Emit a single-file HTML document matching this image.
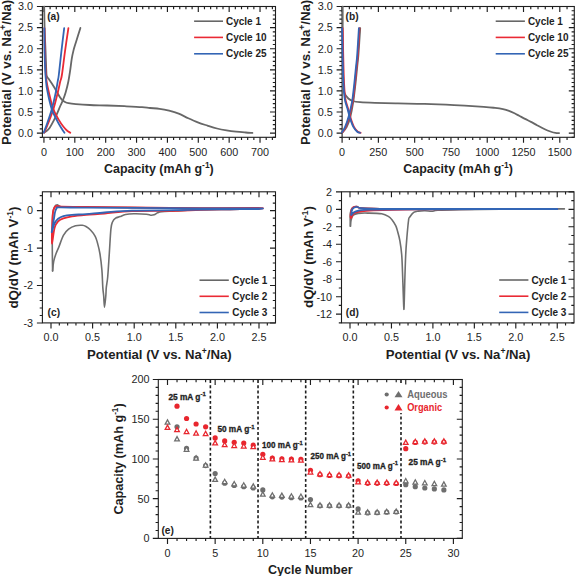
<!DOCTYPE html>
<html><head><meta charset="utf-8"><title>Figure</title>
<style>
html,body{margin:0;padding:0;background:#fff;}
body{width:575px;height:576px;overflow:hidden;}
svg{display:block;font-family:"Liberation Sans", sans-serif;}
</style></head>
<body>
<svg width="575" height="576" viewBox="0 0 575 576">
<rect width="575" height="576" fill="#fff"/>
<rect x="42.4" y="6.5" width="233.1" height="130.8" fill="none" stroke="#1e1e1e" stroke-width="1.1"/>
<path d="M43.94,137.3v5.5 M43.94,6.5v5.5 M74.81,137.3v5.5 M74.81,6.5v5.5 M105.68,137.3v5.5 M105.68,6.5v5.5 M136.55,137.3v5.5 M136.55,6.5v5.5 M167.42,137.3v5.5 M167.42,6.5v5.5 M198.29,137.3v5.5 M198.29,6.5v5.5 M229.16,137.3v5.5 M229.16,6.5v5.5 M260.03,137.3v5.5 M260.03,6.5v5.5 M50.11,137.3v2.7 M50.11,6.5v2.7 M56.29,137.3v2.7 M56.29,6.5v2.7 M62.46,137.3v2.7 M62.46,6.5v2.7 M68.64,137.3v2.7 M68.64,6.5v2.7 M80.98,137.3v2.7 M80.98,6.5v2.7 M87.16,137.3v2.7 M87.16,6.5v2.7 M93.33,137.3v2.7 M93.33,6.5v2.7 M99.51,137.3v2.7 M99.51,6.5v2.7 M111.85,137.3v2.7 M111.85,6.5v2.7 M118.03,137.3v2.7 M118.03,6.5v2.7 M124.2,137.3v2.7 M124.2,6.5v2.7 M130.38,137.3v2.7 M130.38,6.5v2.7 M142.72,137.3v2.7 M142.72,6.5v2.7 M148.9,137.3v2.7 M148.9,6.5v2.7 M155.07,137.3v2.7 M155.07,6.5v2.7 M161.25,137.3v2.7 M161.25,6.5v2.7 M173.59,137.3v2.7 M173.59,6.5v2.7 M179.77,137.3v2.7 M179.77,6.5v2.7 M185.94,137.3v2.7 M185.94,6.5v2.7 M192.12,137.3v2.7 M192.12,6.5v2.7 M204.46,137.3v2.7 M204.46,6.5v2.7 M210.64,137.3v2.7 M210.64,6.5v2.7 M216.81,137.3v2.7 M216.81,6.5v2.7 M222.99,137.3v2.7 M222.99,6.5v2.7 M235.33,137.3v2.7 M235.33,6.5v2.7 M241.51,137.3v2.7 M241.51,6.5v2.7 M247.68,137.3v2.7 M247.68,6.5v2.7 M253.86,137.3v2.7 M253.86,6.5v2.7 M266.2,137.3v2.7 M266.2,6.5v2.7 M272.38,137.3v2.7 M272.38,6.5v2.7 " stroke="#1e1e1e" stroke-width="1.15"/>
<path d="M42.4,133.08h-5.5 M275.5,133.08h-5.5 M42.4,111.99h-5.5 M275.5,111.99h-5.5 M42.4,90.89h-5.5 M275.5,90.89h-5.5 M42.4,69.8h-5.5 M275.5,69.8h-5.5 M42.4,48.7h-5.5 M275.5,48.7h-5.5 M42.4,27.61h-5.5 M275.5,27.61h-5.5 M42.4,6.51h-5.5 M275.5,6.51h-5.5 M42.4,137.3h-2.7 M275.5,137.3h-2.7 M42.4,128.86h-2.7 M275.5,128.86h-2.7 M42.4,124.64h-2.7 M275.5,124.64h-2.7 M42.4,120.42h-2.7 M275.5,120.42h-2.7 M42.4,116.2h-2.7 M275.5,116.2h-2.7 M42.4,107.77h-2.7 M275.5,107.77h-2.7 M42.4,103.55h-2.7 M275.5,103.55h-2.7 M42.4,99.33h-2.7 M275.5,99.33h-2.7 M42.4,95.11h-2.7 M275.5,95.11h-2.7 M42.4,86.67h-2.7 M275.5,86.67h-2.7 M42.4,82.45h-2.7 M275.5,82.45h-2.7 M42.4,78.23h-2.7 M275.5,78.23h-2.7 M42.4,74.01h-2.7 M275.5,74.01h-2.7 M42.4,65.58h-2.7 M275.5,65.58h-2.7 M42.4,61.36h-2.7 M275.5,61.36h-2.7 M42.4,57.14h-2.7 M275.5,57.14h-2.7 M42.4,52.92h-2.7 M275.5,52.92h-2.7 M42.4,44.48h-2.7 M275.5,44.48h-2.7 M42.4,40.26h-2.7 M275.5,40.26h-2.7 M42.4,36.04h-2.7 M275.5,36.04h-2.7 M42.4,31.82h-2.7 M275.5,31.82h-2.7 M42.4,23.39h-2.7 M275.5,23.39h-2.7 M42.4,19.17h-2.7 M275.5,19.17h-2.7 M42.4,14.95h-2.7 M275.5,14.95h-2.7 M42.4,10.73h-2.7 M275.5,10.73h-2.7 " stroke="#1e1e1e" stroke-width="1.15"/>
<text x="43.94" y="156.09" font-size="10.8" font-weight="400" text-anchor="middle" fill="#1e1e1e" >0</text>
<text x="74.81" y="156.09" font-size="10.8" font-weight="400" text-anchor="middle" fill="#1e1e1e" >100</text>
<text x="105.68" y="156.09" font-size="10.8" font-weight="400" text-anchor="middle" fill="#1e1e1e" >200</text>
<text x="136.55" y="156.09" font-size="10.8" font-weight="400" text-anchor="middle" fill="#1e1e1e" >300</text>
<text x="167.42" y="156.09" font-size="10.8" font-weight="400" text-anchor="middle" fill="#1e1e1e" >400</text>
<text x="198.29" y="156.09" font-size="10.8" font-weight="400" text-anchor="middle" fill="#1e1e1e" >500</text>
<text x="229.16" y="156.09" font-size="10.8" font-weight="400" text-anchor="middle" fill="#1e1e1e" >600</text>
<text x="260.03" y="156.09" font-size="10.8" font-weight="400" text-anchor="middle" fill="#1e1e1e" >700</text>
<text x="33" y="136.97" font-size="10.8" font-weight="400" text-anchor="end" fill="#1e1e1e" >0.0</text>
<text x="33" y="115.87" font-size="10.8" font-weight="400" text-anchor="end" fill="#1e1e1e" >0.5</text>
<text x="33" y="94.78" font-size="10.8" font-weight="400" text-anchor="end" fill="#1e1e1e" >1.0</text>
<text x="33" y="73.68" font-size="10.8" font-weight="400" text-anchor="end" fill="#1e1e1e" >1.5</text>
<text x="33" y="52.59" font-size="10.8" font-weight="400" text-anchor="end" fill="#1e1e1e" >2.0</text>
<text x="33" y="31.49" font-size="10.8" font-weight="400" text-anchor="end" fill="#1e1e1e" >2.5</text>
<text x="33" y="10.4" font-size="10.8" font-weight="400" text-anchor="end" fill="#1e1e1e" >3.0</text>
<rect x="342.1" y="6.5" width="232.2" height="130.8" fill="none" stroke="#1e1e1e" stroke-width="1.1"/>
<path d="M342.1,137.3v5.5 M342.1,6.5v5.5 M378.38,137.3v5.5 M378.38,6.5v5.5 M414.67,137.3v5.5 M414.67,6.5v5.5 M450.95,137.3v5.5 M450.95,6.5v5.5 M487.23,137.3v5.5 M487.23,6.5v5.5 M523.51,137.3v5.5 M523.51,6.5v5.5 M559.8,137.3v5.5 M559.8,6.5v5.5 M349.36,137.3v2.7 M349.36,6.5v2.7 M356.61,137.3v2.7 M356.61,6.5v2.7 M363.87,137.3v2.7 M363.87,6.5v2.7 M371.13,137.3v2.7 M371.13,6.5v2.7 M385.64,137.3v2.7 M385.64,6.5v2.7 M392.9,137.3v2.7 M392.9,6.5v2.7 M400.15,137.3v2.7 M400.15,6.5v2.7 M407.41,137.3v2.7 M407.41,6.5v2.7 M421.92,137.3v2.7 M421.92,6.5v2.7 M429.18,137.3v2.7 M429.18,6.5v2.7 M436.43,137.3v2.7 M436.43,6.5v2.7 M443.69,137.3v2.7 M443.69,6.5v2.7 M458.2,137.3v2.7 M458.2,6.5v2.7 M465.46,137.3v2.7 M465.46,6.5v2.7 M472.72,137.3v2.7 M472.72,6.5v2.7 M479.97,137.3v2.7 M479.97,6.5v2.7 M494.49,137.3v2.7 M494.49,6.5v2.7 M501.74,137.3v2.7 M501.74,6.5v2.7 M509,137.3v2.7 M509,6.5v2.7 M516.26,137.3v2.7 M516.26,6.5v2.7 M530.77,137.3v2.7 M530.77,6.5v2.7 M538.03,137.3v2.7 M538.03,6.5v2.7 M545.28,137.3v2.7 M545.28,6.5v2.7 M552.54,137.3v2.7 M552.54,6.5v2.7 M567.05,137.3v2.7 M567.05,6.5v2.7 " stroke="#1e1e1e" stroke-width="1.15"/>
<path d="M342.1,133.08h-5.5 M574.3,133.08h-5.5 M342.1,111.99h-5.5 M574.3,111.99h-5.5 M342.1,90.89h-5.5 M574.3,90.89h-5.5 M342.1,69.8h-5.5 M574.3,69.8h-5.5 M342.1,48.7h-5.5 M574.3,48.7h-5.5 M342.1,27.61h-5.5 M574.3,27.61h-5.5 M342.1,6.51h-5.5 M574.3,6.51h-5.5 M342.1,137.3h-2.7 M574.3,137.3h-2.7 M342.1,128.86h-2.7 M574.3,128.86h-2.7 M342.1,124.64h-2.7 M574.3,124.64h-2.7 M342.1,120.42h-2.7 M574.3,120.42h-2.7 M342.1,116.2h-2.7 M574.3,116.2h-2.7 M342.1,107.77h-2.7 M574.3,107.77h-2.7 M342.1,103.55h-2.7 M574.3,103.55h-2.7 M342.1,99.33h-2.7 M574.3,99.33h-2.7 M342.1,95.11h-2.7 M574.3,95.11h-2.7 M342.1,86.67h-2.7 M574.3,86.67h-2.7 M342.1,82.45h-2.7 M574.3,82.45h-2.7 M342.1,78.23h-2.7 M574.3,78.23h-2.7 M342.1,74.01h-2.7 M574.3,74.01h-2.7 M342.1,65.58h-2.7 M574.3,65.58h-2.7 M342.1,61.36h-2.7 M574.3,61.36h-2.7 M342.1,57.14h-2.7 M574.3,57.14h-2.7 M342.1,52.92h-2.7 M574.3,52.92h-2.7 M342.1,44.48h-2.7 M574.3,44.48h-2.7 M342.1,40.26h-2.7 M574.3,40.26h-2.7 M342.1,36.04h-2.7 M574.3,36.04h-2.7 M342.1,31.82h-2.7 M574.3,31.82h-2.7 M342.1,23.39h-2.7 M574.3,23.39h-2.7 M342.1,19.17h-2.7 M574.3,19.17h-2.7 M342.1,14.95h-2.7 M574.3,14.95h-2.7 M342.1,10.73h-2.7 M574.3,10.73h-2.7 " stroke="#1e1e1e" stroke-width="1.15"/>
<text x="342.1" y="156.09" font-size="10.8" font-weight="400" text-anchor="middle" fill="#1e1e1e" >0</text>
<text x="378.38" y="156.09" font-size="10.8" font-weight="400" text-anchor="middle" fill="#1e1e1e" >250</text>
<text x="414.67" y="156.09" font-size="10.8" font-weight="400" text-anchor="middle" fill="#1e1e1e" >500</text>
<text x="450.95" y="156.09" font-size="10.8" font-weight="400" text-anchor="middle" fill="#1e1e1e" >750</text>
<text x="487.23" y="156.09" font-size="10.8" font-weight="400" text-anchor="middle" fill="#1e1e1e" >1000</text>
<text x="523.51" y="156.09" font-size="10.8" font-weight="400" text-anchor="middle" fill="#1e1e1e" >1250</text>
<text x="559.8" y="156.09" font-size="10.8" font-weight="400" text-anchor="middle" fill="#1e1e1e" >1500</text>
<text x="332.7" y="136.97" font-size="10.8" font-weight="400" text-anchor="end" fill="#1e1e1e" >0.0</text>
<text x="332.7" y="115.87" font-size="10.8" font-weight="400" text-anchor="end" fill="#1e1e1e" >0.5</text>
<text x="332.7" y="94.78" font-size="10.8" font-weight="400" text-anchor="end" fill="#1e1e1e" >1.0</text>
<text x="332.7" y="73.68" font-size="10.8" font-weight="400" text-anchor="end" fill="#1e1e1e" >1.5</text>
<text x="332.7" y="52.59" font-size="10.8" font-weight="400" text-anchor="end" fill="#1e1e1e" >2.0</text>
<text x="332.7" y="31.49" font-size="10.8" font-weight="400" text-anchor="end" fill="#1e1e1e" >2.5</text>
<text x="332.7" y="10.4" font-size="10.8" font-weight="400" text-anchor="end" fill="#1e1e1e" >3.0</text>
<text x="158.9" y="173.1" font-size="12.5" font-weight="700" text-anchor="middle" fill="#1e1e1e" textLength="109.7" lengthAdjust="spacingAndGlyphs" >Capacity (mAh g<tspan dy="-5" font-size="8.5">-1</tspan><tspan dy="5">)</tspan></text>
<text transform="translate(10.9,72.4) rotate(-90)" font-size="13.2" font-weight="700" text-anchor="middle" fill="#1e1e1e" textLength="145.2" lengthAdjust="spacingAndGlyphs" >Potential (V vs. Na<tspan dy="-5" font-size="8.5">+</tspan><tspan dy="5">/Na)</tspan></text>
<text x="458.1" y="173.1" font-size="12.5" font-weight="700" text-anchor="middle" fill="#1e1e1e" textLength="109.7" lengthAdjust="spacingAndGlyphs" >Capacity (mAh g<tspan dy="-5" font-size="8.5">-1</tspan><tspan dy="5">)</tspan></text>
<text transform="translate(310.1,72.4) rotate(-90)" font-size="13.2" font-weight="700" text-anchor="middle" fill="#1e1e1e" textLength="145.2" lengthAdjust="spacingAndGlyphs" >Potential (V vs. Na<tspan dy="-5" font-size="8.5">+</tspan><tspan dy="5">/Na)</tspan></text>
<text x="47.2" y="20.2" font-size="10.2" font-weight="700" text-anchor="start" fill="#1e1e1e" >(a)</text>
<text x="345.6" y="20.2" font-size="10.2" font-weight="700" text-anchor="start" fill="#1e1e1e" >(b)</text>
<line x1="194.1" y1="21.2" x2="223" y2="21.2" stroke="#676767" stroke-width="1.6"/>
<text x="226" y="24.8" font-size="10" font-weight="700" text-anchor="start" fill="#1e1e1e" >Cycle 1</text>
<line x1="194.1" y1="37.4" x2="223" y2="37.4" stroke="#ea2a35" stroke-width="1.6"/>
<text x="226" y="41" font-size="10" font-weight="700" text-anchor="start" fill="#1e1e1e" >Cycle 10</text>
<line x1="194.1" y1="53.8" x2="223" y2="53.8" stroke="#3365b5" stroke-width="1.6"/>
<text x="226" y="57.4" font-size="10" font-weight="700" text-anchor="start" fill="#1e1e1e" >Cycle 25</text>
<line x1="495.7" y1="21.2" x2="524.9" y2="21.2" stroke="#676767" stroke-width="1.6"/>
<text x="527.9" y="24.8" font-size="10" font-weight="700" text-anchor="start" fill="#1e1e1e" >Cycle 1</text>
<line x1="495.7" y1="37.4" x2="524.9" y2="37.4" stroke="#ea2a35" stroke-width="1.6"/>
<text x="527.9" y="41" font-size="10" font-weight="700" text-anchor="start" fill="#1e1e1e" >Cycle 10</text>
<line x1="495.7" y1="53.8" x2="524.9" y2="53.8" stroke="#3365b5" stroke-width="1.6"/>
<text x="527.9" y="57.4" font-size="10" font-weight="700" text-anchor="start" fill="#1e1e1e" >Cycle 25</text>
<path d="M44.2,6.6 C44.27,10.17 44.38,20.77 44.6,28 C44.82,35.23 45.25,43.67 45.5,50 C45.75,56.33 45.93,61.92 46.1,66 C46.27,70.08 46.28,72.6 46.5,74.5 C46.72,76.4 47,76.62 47.4,77.4 C47.8,78.18 48.13,78.13 48.9,79.2 C49.67,80.27 50.82,81.95 52,83.8 C53.18,85.65 54.75,88.18 56,90.3 C57.25,92.42 58.5,94.92 59.5,96.5 C60.5,98.08 61.08,98.88 62,99.8 C62.92,100.72 63.92,101.43 65,102 C66.08,102.57 66.68,102.85 68.5,103.2 C70.32,103.55 72.35,103.8 75.9,104.1 C79.45,104.4 84.58,104.77 89.8,105 C95.02,105.23 101.4,105.3 107.2,105.5 C113,105.7 118.8,105.93 124.6,106.2 C130.4,106.47 137.77,106.8 142,107.1 C146.23,107.4 147.07,107.72 150,108 C152.93,108.28 156.42,108.35 159.6,108.8 C162.78,109.25 165.92,109.88 169.1,110.7 C172.28,111.52 175.5,112.43 178.7,113.7 C181.9,114.97 185.12,116.85 188.3,118.3 C191.48,119.75 194.62,121.18 197.8,122.4 C200.98,123.62 204.2,124.58 207.4,125.6 C210.6,126.62 213.82,127.7 217,128.5 C220.18,129.3 223.32,129.87 226.5,130.4 C229.68,130.93 232.9,131.35 236.1,131.7 C239.3,132.05 242.98,132.3 245.7,132.5 C248.42,132.7 251.28,132.83 252.4,132.9" fill="none" stroke="#676767" stroke-width="1.8" stroke-linejoin="round" stroke-linecap="round" />
<path d="M44.2,132.6 C45.07,131.87 47.48,130.85 49.4,128.2 C51.32,125.55 53.85,120.48 55.7,116.7 C57.55,112.92 59.28,108.28 60.5,105.5 C61.72,102.72 62.13,102.22 63,100 C63.87,97.78 64.82,95.25 65.7,92.2 C66.58,89.15 67.53,85.47 68.3,81.7 C69.07,77.93 69.73,73.37 70.3,69.6 C70.87,65.83 71.17,62.3 71.7,59.1 C72.23,55.9 72.77,53.3 73.5,50.4 C74.23,47.5 74.95,45.45 76.1,41.7 C77.25,37.95 79.68,30.2 80.4,27.9" fill="none" stroke="#676767" stroke-width="1.8" stroke-linejoin="round" stroke-linecap="round" />
<path d="M44.5,28.2 C44.55,31.83 44.65,43.37 44.8,50 C44.95,56.63 45.13,63 45.4,68 C45.67,73 45.88,76.22 46.4,80 C46.92,83.78 47.4,85.97 48.5,90.7 C49.6,95.43 51.28,103.53 53,108.4 C54.72,113.27 57.05,116.83 58.8,119.9 C60.55,122.97 62.1,124.98 63.5,126.8 C64.9,128.62 66.07,129.82 67.2,130.8 C68.33,131.78 69.78,132.38 70.3,132.7" fill="none" stroke="#ea2a35" stroke-width="1.8" stroke-linejoin="round" stroke-linecap="round" />
<path d="M44.2,132.6 C44.88,131 46.73,127.03 48.3,123 C49.87,118.97 52.03,113.45 53.6,108.4 C55.17,103.35 56.58,97.22 57.7,92.7 C58.82,88.18 59.6,84.25 60.3,81.3 C61,78.35 61.12,80 61.9,75 C62.68,70 63.92,59.12 65,51.3 C66.08,43.48 67.83,31.97 68.4,28.1" fill="none" stroke="#ea2a35" stroke-width="1.8" stroke-linejoin="round" stroke-linecap="round" />
<path d="M44.3,28.2 C44.33,31.83 44.37,43.37 44.5,50 C44.63,56.63 44.87,63 45.1,68 C45.33,73 45.53,76.22 45.9,80 C46.27,83.78 46.37,85.97 47.3,90.7 C48.23,95.43 49.85,103.37 51.5,108.4 C53.15,113.43 55.53,117.6 57.2,120.9 C58.87,124.2 60.28,126.23 61.5,128.2 C62.72,130.17 64,131.95 64.5,132.7" fill="none" stroke="#3365b5" stroke-width="1.8" stroke-linejoin="round" stroke-linecap="round" />
<path d="M43.7,132.6 C44.3,131 45.92,127.03 47.3,123 C48.68,118.97 50.6,113.45 52,108.4 C53.4,103.35 54.75,97.22 55.7,92.7 C56.65,88.18 57.18,84.25 57.7,81.3 C58.22,78.35 58.18,80 58.8,75 C59.42,70 60.5,59.12 61.4,51.3 C62.3,43.48 63.73,31.97 64.2,28.1" fill="none" stroke="#3365b5" stroke-width="1.8" stroke-linejoin="round" stroke-linecap="round" />
<path d="M342.7,6.6 C342.7,15.5 342.65,47.02 342.7,60 C342.75,72.98 342.68,78.95 343,84.5 C343.32,90.05 343.72,90.97 344.6,93.3 C345.48,95.63 346.95,97.22 348.3,98.5 C349.65,99.78 350.73,100.38 352.7,101 C354.67,101.62 356.4,101.88 360.1,102.2 C363.8,102.52 368.58,102.7 374.9,102.9 C381.22,103.1 389.72,103.23 398,103.4 C406.28,103.57 415.25,103.62 424.6,103.9 C433.95,104.18 444.25,104.62 454.1,105.1 C463.95,105.58 476.88,106.33 483.7,106.8 C490.52,107.27 491.78,107.5 495,107.9 C498.22,108.3 500.67,108.7 503,109.2 C505.33,109.7 507.08,110.22 509,110.9 C510.92,111.58 512.8,112.48 514.5,113.3 C516.2,114.12 517.45,114.87 519.2,115.8 C520.95,116.73 523.03,117.88 525,118.9 C526.97,119.92 529,120.85 531,121.9 C533,122.95 535.03,124.13 537,125.2 C538.97,126.27 541.05,127.42 542.8,128.3 C544.55,129.18 546.02,129.88 547.5,130.5 C548.98,131.12 550.37,131.62 551.7,132 C553.03,132.38 554.27,132.6 555.5,132.8 C556.73,133 558.5,133.13 559.1,133.2" fill="none" stroke="#676767" stroke-width="1.8" stroke-linejoin="round" stroke-linecap="round" />
<path d="M342.4,132.4 C343.1,131.53 345.28,129.78 346.6,127.2 C347.92,124.62 349.2,121.07 350.3,116.9 C351.4,112.73 352.35,107.6 353.2,102.2 C354.05,96.8 354.73,90.4 355.4,84.5 C356.07,78.6 356.7,71.72 357.2,66.8 C357.7,61.88 357.9,61.43 358.4,55 C358.9,48.57 359.9,32.67 360.2,28.2" fill="none" stroke="#676767" stroke-width="1.8" stroke-linejoin="round" stroke-linecap="round" />
<path d="M342.7,28.2 C342.88,36.35 343.38,65.5 343.8,77.1 C344.22,88.7 344.52,92.63 345.2,97.8 C345.88,102.97 346.98,104.67 347.9,108.1 C348.82,111.53 349.67,115.22 350.7,118.4 C351.73,121.58 352.92,124.98 354.1,127.2 C355.28,129.42 356.7,130.77 357.8,131.7 C358.9,132.63 360.22,132.62 360.7,132.8" fill="none" stroke="#ea2a35" stroke-width="1.8" stroke-linejoin="round" stroke-linecap="round" />
<path d="M342.5,132.4 C343.02,131.53 344.5,129.78 345.6,127.2 C346.7,124.62 347.93,121.07 349.1,116.9 C350.27,112.73 351.65,107.6 352.6,102.2 C353.55,96.8 354.13,90.4 354.8,84.5 C355.47,78.6 356.1,71.72 356.6,66.8 C357.1,61.88 357.32,61.43 357.8,55 C358.28,48.57 359.22,32.67 359.5,28.2" fill="none" stroke="#ea2a35" stroke-width="1.8" stroke-linejoin="round" stroke-linecap="round" />
<path d="M342.1,28.2 C342.28,36.35 342.78,65.5 343.2,77.1 C343.62,88.7 343.92,92.63 344.6,97.8 C345.28,102.97 346.38,104.67 347.3,108.1 C348.22,111.53 349.07,115.22 350.1,118.4 C351.13,121.58 352.32,124.98 353.5,127.2 C354.68,129.42 356.1,130.77 357.2,131.7 C358.3,132.63 359.62,132.62 360.1,132.8" fill="none" stroke="#3365b5" stroke-width="1.8" stroke-linejoin="round" stroke-linecap="round" />
<path d="M341.9,132.4 C342.42,131.53 343.9,129.78 345,127.2 C346.1,124.62 347.33,121.07 348.5,116.9 C349.67,112.73 351.05,107.6 352,102.2 C352.95,96.8 353.53,90.4 354.2,84.5 C354.87,78.6 355.5,71.72 356,66.8 C356.5,61.88 356.72,61.43 357.2,55 C357.68,48.57 358.62,32.67 358.9,28.2" fill="none" stroke="#3365b5" stroke-width="1.8" stroke-linejoin="round" stroke-linecap="round" />
<rect x="42.4" y="191.8" width="233.1" height="131.1" fill="none" stroke="#1e1e1e" stroke-width="1.1"/>
<path d="M51,322.9v5.5 M51,191.8v5.5 M92.6,322.9v5.5 M92.6,191.8v5.5 M134.2,322.9v5.5 M134.2,191.8v5.5 M175.8,322.9v5.5 M175.8,191.8v5.5 M217.4,322.9v5.5 M217.4,191.8v5.5 M259,322.9v5.5 M259,191.8v5.5 M59.32,322.9v2.7 M59.32,191.8v2.7 M67.64,322.9v2.7 M67.64,191.8v2.7 M75.96,322.9v2.7 M75.96,191.8v2.7 M84.28,322.9v2.7 M84.28,191.8v2.7 M100.92,322.9v2.7 M100.92,191.8v2.7 M109.24,322.9v2.7 M109.24,191.8v2.7 M117.56,322.9v2.7 M117.56,191.8v2.7 M125.88,322.9v2.7 M125.88,191.8v2.7 M142.52,322.9v2.7 M142.52,191.8v2.7 M150.84,322.9v2.7 M150.84,191.8v2.7 M159.16,322.9v2.7 M159.16,191.8v2.7 M167.48,322.9v2.7 M167.48,191.8v2.7 M184.12,322.9v2.7 M184.12,191.8v2.7 M192.44,322.9v2.7 M192.44,191.8v2.7 M200.76,322.9v2.7 M200.76,191.8v2.7 M209.08,322.9v2.7 M209.08,191.8v2.7 M225.72,322.9v2.7 M225.72,191.8v2.7 M234.04,322.9v2.7 M234.04,191.8v2.7 M242.36,322.9v2.7 M242.36,191.8v2.7 M250.68,322.9v2.7 M250.68,191.8v2.7 M267.32,322.9v2.7 M267.32,191.8v2.7 " stroke="#1e1e1e" stroke-width="1.15"/>
<path d="M42.4,322.98h-5.5 M275.5,322.98h-5.5 M42.4,285.52h-5.5 M275.5,285.52h-5.5 M42.4,248.06h-5.5 M275.5,248.06h-5.5 M42.4,210.6h-5.5 M275.5,210.6h-5.5 M42.4,315.49h-2.7 M275.5,315.49h-2.7 M42.4,308h-2.7 M275.5,308h-2.7 M42.4,300.5h-2.7 M275.5,300.5h-2.7 M42.4,293.01h-2.7 M275.5,293.01h-2.7 M42.4,278.03h-2.7 M275.5,278.03h-2.7 M42.4,270.54h-2.7 M275.5,270.54h-2.7 M42.4,263.04h-2.7 M275.5,263.04h-2.7 M42.4,255.55h-2.7 M275.5,255.55h-2.7 M42.4,240.57h-2.7 M275.5,240.57h-2.7 M42.4,233.08h-2.7 M275.5,233.08h-2.7 M42.4,225.58h-2.7 M275.5,225.58h-2.7 M42.4,218.09h-2.7 M275.5,218.09h-2.7 M42.4,203.11h-2.7 M275.5,203.11h-2.7 M42.4,195.62h-2.7 M275.5,195.62h-2.7 " stroke="#1e1e1e" stroke-width="1.15"/>
<text x="51" y="341.29" font-size="10.8" font-weight="400" text-anchor="middle" fill="#1e1e1e" >0.0</text>
<text x="92.6" y="341.29" font-size="10.8" font-weight="400" text-anchor="middle" fill="#1e1e1e" >0.5</text>
<text x="134.2" y="341.29" font-size="10.8" font-weight="400" text-anchor="middle" fill="#1e1e1e" >1.0</text>
<text x="175.8" y="341.29" font-size="10.8" font-weight="400" text-anchor="middle" fill="#1e1e1e" >1.5</text>
<text x="217.4" y="341.29" font-size="10.8" font-weight="400" text-anchor="middle" fill="#1e1e1e" >2.0</text>
<text x="259" y="341.29" font-size="10.8" font-weight="400" text-anchor="middle" fill="#1e1e1e" >2.5</text>
<text x="33.1" y="326.87" font-size="10.8" font-weight="400" text-anchor="end" fill="#1e1e1e" >-3</text>
<text x="33.1" y="289.41" font-size="10.8" font-weight="400" text-anchor="end" fill="#1e1e1e" >-2</text>
<text x="33.1" y="251.95" font-size="10.8" font-weight="400" text-anchor="end" fill="#1e1e1e" >-1</text>
<text x="33.1" y="214.49" font-size="10.8" font-weight="400" text-anchor="end" fill="#1e1e1e" >0</text>
<rect x="341.5" y="191.8" width="232.5" height="131.1" fill="none" stroke="#1e1e1e" stroke-width="1.1"/>
<path d="M350,322.9v5.5 M350,191.8v5.5 M391.45,322.9v5.5 M391.45,191.8v5.5 M432.9,322.9v5.5 M432.9,191.8v5.5 M474.35,322.9v5.5 M474.35,191.8v5.5 M515.8,322.9v5.5 M515.8,191.8v5.5 M557.25,322.9v5.5 M557.25,191.8v5.5 M358.29,322.9v2.7 M358.29,191.8v2.7 M366.58,322.9v2.7 M366.58,191.8v2.7 M374.87,322.9v2.7 M374.87,191.8v2.7 M383.16,322.9v2.7 M383.16,191.8v2.7 M399.74,322.9v2.7 M399.74,191.8v2.7 M408.03,322.9v2.7 M408.03,191.8v2.7 M416.32,322.9v2.7 M416.32,191.8v2.7 M424.61,322.9v2.7 M424.61,191.8v2.7 M441.19,322.9v2.7 M441.19,191.8v2.7 M449.48,322.9v2.7 M449.48,191.8v2.7 M457.77,322.9v2.7 M457.77,191.8v2.7 M466.06,322.9v2.7 M466.06,191.8v2.7 M482.64,322.9v2.7 M482.64,191.8v2.7 M490.93,322.9v2.7 M490.93,191.8v2.7 M499.22,322.9v2.7 M499.22,191.8v2.7 M507.51,322.9v2.7 M507.51,191.8v2.7 M524.09,322.9v2.7 M524.09,191.8v2.7 M532.38,322.9v2.7 M532.38,191.8v2.7 M540.67,322.9v2.7 M540.67,191.8v2.7 M548.96,322.9v2.7 M548.96,191.8v2.7 M565.54,322.9v2.7 M565.54,191.8v2.7 " stroke="#1e1e1e" stroke-width="1.15"/>
<path d="M341.5,314.18h-5.5 M574,314.18h-5.5 M341.5,296.7h-5.5 M574,296.7h-5.5 M341.5,279.22h-5.5 M574,279.22h-5.5 M341.5,261.74h-5.5 M574,261.74h-5.5 M341.5,244.26h-5.5 M574,244.26h-5.5 M341.5,226.78h-5.5 M574,226.78h-5.5 M341.5,209.3h-5.5 M574,209.3h-5.5 M341.5,191.82h-5.5 M574,191.82h-5.5 M341.5,322.92h-2.7 M574,322.92h-2.7 M341.5,305.44h-2.7 M574,305.44h-2.7 M341.5,287.96h-2.7 M574,287.96h-2.7 M341.5,270.48h-2.7 M574,270.48h-2.7 M341.5,253h-2.7 M574,253h-2.7 M341.5,235.52h-2.7 M574,235.52h-2.7 M341.5,218.04h-2.7 M574,218.04h-2.7 M341.5,200.56h-2.7 M574,200.56h-2.7 " stroke="#1e1e1e" stroke-width="1.15"/>
<text x="350" y="341.29" font-size="10.8" font-weight="400" text-anchor="middle" fill="#1e1e1e" >0.0</text>
<text x="391.45" y="341.29" font-size="10.8" font-weight="400" text-anchor="middle" fill="#1e1e1e" >0.5</text>
<text x="432.9" y="341.29" font-size="10.8" font-weight="400" text-anchor="middle" fill="#1e1e1e" >1.0</text>
<text x="474.35" y="341.29" font-size="10.8" font-weight="400" text-anchor="middle" fill="#1e1e1e" >1.5</text>
<text x="515.8" y="341.29" font-size="10.8" font-weight="400" text-anchor="middle" fill="#1e1e1e" >2.0</text>
<text x="557.25" y="341.29" font-size="10.8" font-weight="400" text-anchor="middle" fill="#1e1e1e" >2.5</text>
<text x="332" y="318.07" font-size="10.8" font-weight="400" text-anchor="end" fill="#1e1e1e" >-12</text>
<text x="332" y="300.59" font-size="10.8" font-weight="400" text-anchor="end" fill="#1e1e1e" >-10</text>
<text x="332" y="283.11" font-size="10.8" font-weight="400" text-anchor="end" fill="#1e1e1e" >-8</text>
<text x="332" y="265.63" font-size="10.8" font-weight="400" text-anchor="end" fill="#1e1e1e" >-6</text>
<text x="332" y="248.15" font-size="10.8" font-weight="400" text-anchor="end" fill="#1e1e1e" >-4</text>
<text x="332" y="230.67" font-size="10.8" font-weight="400" text-anchor="end" fill="#1e1e1e" >-2</text>
<text x="332" y="213.19" font-size="10.8" font-weight="400" text-anchor="end" fill="#1e1e1e" >0</text>
<text x="332" y="195.71" font-size="10.8" font-weight="400" text-anchor="end" fill="#1e1e1e" >2</text>
<text x="159.3" y="358.9" font-size="13" font-weight="700" text-anchor="middle" fill="#1e1e1e" textLength="144.6" lengthAdjust="spacingAndGlyphs" >Potential (V vs. Na<tspan dy="-5" font-size="8.5">+</tspan><tspan dy="5">/Na)</tspan></text>
<text transform="translate(18.1,257.6) rotate(-90)" font-size="13.6" font-weight="700" text-anchor="middle" fill="#1e1e1e" textLength="102" lengthAdjust="spacingAndGlyphs" >dQ/dV (mAh V<tspan dy="-5" font-size="8.5">-1</tspan><tspan dy="5">)</tspan></text>
<text x="458" y="358.9" font-size="13" font-weight="700" text-anchor="middle" fill="#1e1e1e" textLength="144.6" lengthAdjust="spacingAndGlyphs" >Potential (V vs. Na<tspan dy="-5" font-size="8.5">+</tspan><tspan dy="5">/Na)</tspan></text>
<text transform="translate(312.8,257) rotate(-90)" font-size="13.6" font-weight="700" text-anchor="middle" fill="#1e1e1e" textLength="102" lengthAdjust="spacingAndGlyphs" >dQ/dV (mAh V<tspan dy="-5" font-size="8.5">-1</tspan><tspan dy="5">)</tspan></text>
<text x="47.6" y="316.3" font-size="10.2" font-weight="700" text-anchor="start" fill="#1e1e1e" >(c)</text>
<text x="345.8" y="316.3" font-size="10.2" font-weight="700" text-anchor="start" fill="#1e1e1e" >(d)</text>
<line x1="199.5" y1="280.2" x2="228.8" y2="280.2" stroke="#676767" stroke-width="1.6"/>
<text x="232.3" y="283.8" font-size="10" font-weight="700" text-anchor="start" fill="#1e1e1e" >Cycle 1</text>
<line x1="199.5" y1="296.3" x2="228.8" y2="296.3" stroke="#ea2a35" stroke-width="1.6"/>
<text x="232.3" y="299.9" font-size="10" font-weight="700" text-anchor="start" fill="#1e1e1e" >Cycle 2</text>
<line x1="199.5" y1="312.5" x2="228.8" y2="312.5" stroke="#3365b5" stroke-width="1.6"/>
<text x="232.3" y="316.1" font-size="10" font-weight="700" text-anchor="start" fill="#1e1e1e" >Cycle 3</text>
<line x1="499.2" y1="280" x2="528.4" y2="280" stroke="#676767" stroke-width="1.6"/>
<text x="531.4" y="283.6" font-size="10" font-weight="700" text-anchor="start" fill="#1e1e1e" >Cycle 1</text>
<line x1="499.2" y1="296.2" x2="528.4" y2="296.2" stroke="#ea2a35" stroke-width="1.6"/>
<text x="531.4" y="299.8" font-size="10" font-weight="700" text-anchor="start" fill="#1e1e1e" >Cycle 2</text>
<line x1="499.2" y1="312.4" x2="528.4" y2="312.4" stroke="#3365b5" stroke-width="1.6"/>
<text x="531.4" y="316" font-size="10" font-weight="700" text-anchor="start" fill="#1e1e1e" >Cycle 3</text>
<path d="M259,209 C254.17,209.07 239.83,209.27 230,209.4 C220.17,209.53 209.05,209.53 200,209.8 C190.95,210.07 182.08,210.68 175.7,211 C169.32,211.32 164.72,211.4 161.7,211.7 C158.68,212 158.87,212.28 157.6,212.8 C156.33,213.32 155.27,214.4 154.1,214.8 C152.93,215.2 151.88,215.3 150.6,215.2 C149.32,215.1 149.18,214.43 146.4,214.2 C143.62,213.97 137.37,213.75 133.9,213.8 C130.43,213.85 127.92,214.03 125.6,214.5 C123.28,214.97 121.67,215.98 120,216.6 C118.33,217.22 116.85,217.3 115.6,218.2 C114.35,219.1 113.28,220.18 112.5,222 C111.72,223.82 111.43,223.85 110.9,229.1 C110.37,234.35 109.83,245.52 109.3,253.5 C108.77,261.48 108.2,271.35 107.7,277 C107.2,282.65 106.62,284.23 106.3,287.4 C105.98,290.57 106.1,292.68 105.8,296 C105.5,299.32 104.85,307.3 104.5,307.3 C104.15,307.3 103.98,299.32 103.7,296 C103.42,292.68 103.1,291.73 102.8,287.4 C102.5,283.07 102.38,275.65 101.9,270 C101.42,264.35 100.63,258 99.9,253.5 C99.17,249 98.28,245.87 97.5,243 C96.72,240.13 96.37,238.47 95.2,236.3 C94.03,234.13 92.03,231.63 90.5,230 C88.97,228.37 87.35,227.28 86,226.5 C84.65,225.72 84.15,225.42 82.4,225.3 C80.65,225.18 77.8,225.15 75.5,225.8 C73.2,226.45 70.62,227.62 68.6,229.2 C66.58,230.78 65,232.4 63.4,235.3 C61.8,238.2 60.22,243.57 59,246.6 C57.78,249.63 56.98,251.05 56.1,253.5 C55.22,255.95 54.28,258.38 53.7,261.3 C53.12,264.22 52.78,269.38 52.6,271" fill="none" stroke="#6f6f6f" stroke-width="1.6" stroke-linejoin="round" stroke-linecap="round" />
<path d="M52.6,271 C52.55,267.5 52.35,256.83 52.3,250 C52.25,243.17 52.2,236.2 52.3,230 C52.4,223.8 52.5,216.68 52.9,212.8 C53.3,208.92 53.97,208.02 54.7,206.7 C55.43,205.38 56.37,204.93 57.3,204.9 C58.23,204.87 58.18,206.15 60.3,206.5 C62.42,206.85 58.38,206.82 70,207 C81.62,207.18 108.33,207.38 130,207.6 C151.67,207.82 178.6,208.2 200,208.3 C221.4,208.4 248.67,208.22 258.4,208.2" fill="none" stroke="#6f6f6f" stroke-width="1.6" stroke-linejoin="round" stroke-linecap="round" />
<path d="M259.1,208.9 C254.25,208.97 239.85,209.15 230,209.3 C220.15,209.45 209.17,209.55 200,209.8 C190.83,210.05 186.33,210.58 175,210.8 C163.67,211.02 143.73,210.65 132,211.1 C120.27,211.55 112.27,212.87 104.6,213.5 C96.93,214.13 91.43,214.42 86,214.9 C80.57,215.38 75.77,215.82 72,216.4 C68.23,216.98 65.72,217.57 63.4,218.4 C61.08,219.23 59.55,219.88 58.1,221.4 C56.65,222.92 55.63,224.3 54.7,227.5 C53.77,230.7 52.97,238.13 52.5,240.6 C52.03,243.07 51.95,245.07 51.9,242.3 C51.85,239.53 52.03,228.92 52.2,224 C52.37,219.08 52.57,215.47 52.9,212.8 C53.23,210.13 53.62,209.13 54.2,208 C54.78,206.87 55.17,206.22 56.4,206 C57.63,205.78 56.67,206.55 61.6,206.7 C66.53,206.85 74.27,206.78 86,206.9 C97.73,207.02 113,207.18 132,207.4 C151,207.62 178.93,208.1 200,208.2 C221.07,208.3 248.55,207.88 258.4,208 C268.25,208.12 258.98,208.75 259.1,208.9" fill="none" stroke="#ea2a35" stroke-width="1.8" stroke-linejoin="round" stroke-linecap="round" />
<path d="M259,209 C254.17,209.05 239.83,209.2 230,209.3 C220.17,209.4 209.17,209.45 200,209.6 C190.83,209.75 186.33,210.03 175,210.2 C163.67,210.37 143.73,210.22 132,210.6 C120.27,210.98 112.27,211.92 104.6,212.5 C96.93,213.08 91.43,213.7 86,214.1 C80.57,214.5 75.77,214.55 72,214.9 C68.23,215.25 65.72,215.55 63.4,216.2 C61.08,216.85 59.55,217.63 58.1,218.8 C56.65,219.97 55.7,221.17 54.7,223.2 C53.7,225.23 52.57,229.7 52.1,231 C51.63,232.3 51.62,232.88 51.9,231 C52.18,229.12 53.27,222.88 53.8,219.7 C54.33,216.52 54.6,213.85 55.1,211.9 C55.6,209.95 56,208.75 56.8,208 C57.6,207.25 55.03,207.45 59.9,207.4 C64.77,207.35 73.98,207.63 86,207.7 C98.02,207.77 113,207.7 132,207.8 C151,207.9 178.93,208.22 200,208.3 C221.07,208.38 248.57,208.18 258.4,208.3 C268.23,208.42 258.9,208.88 259,209" fill="none" stroke="#3365b5" stroke-width="1.8" stroke-linejoin="round" stroke-linecap="round" />
<path d="M564.4,208.9 C553.67,208.93 517.4,208.98 500,209.1 C482.6,209.22 470.37,209.4 460,209.6 C449.63,209.8 442.47,210.03 437.8,210.3 C433.13,210.57 434.13,211.12 432,211.2 C429.87,211.28 427.28,210.82 425,210.8 C422.72,210.78 420.18,210.83 418.3,211.1 C416.42,211.37 415.15,211.37 413.7,212.4 C412.25,213.43 410.45,216.03 409.6,217.3 C408.75,218.57 409.05,216.67 408.6,220 C408.15,223.33 407.38,231.52 406.9,237.3 C406.42,243.08 406.05,247.47 405.7,254.7 C405.35,261.93 405.03,273.15 404.8,280.7 C404.57,288.25 404.45,295.23 404.3,300 C404.15,304.77 404.05,309.63 403.9,309.3 C403.75,308.97 403.63,304.22 403.4,298 C403.17,291.78 402.78,279.22 402.5,272 C402.22,264.78 402.13,259.9 401.7,254.7 C401.27,249.5 400.63,244.85 399.9,240.8 C399.17,236.75 398,232.93 397.3,230.4 C396.6,227.87 396.57,227.33 395.7,225.6 C394.83,223.87 393.27,221.5 392.1,220 C390.93,218.5 390.43,217.63 388.7,216.6 C386.97,215.57 385.18,214.38 381.7,213.8 C378.22,213.22 371.73,213.17 367.8,213.1 C363.87,213.03 360.53,213.05 358.1,213.4 C355.67,213.75 354.37,214.1 353.2,215.2 C352.03,216.3 351.57,218.15 351.1,220 C350.63,221.85 350.52,225.25 350.4,226.3" fill="none" stroke="#6f6f6f" stroke-width="1.6" stroke-linejoin="round" stroke-linecap="round" />
<path d="M350.4,226.3 C350.37,224.42 350.02,217.88 350.2,215 C350.38,212.12 350.87,210.33 351.5,209 C352.13,207.67 353.08,207.4 354,207 C354.92,206.6 355.83,206.43 357,206.6 C358.17,206.77 357.17,207.65 361,208 C364.83,208.35 365.17,208.55 380,208.7 C394.83,208.85 420.5,208.87 450,208.9 C479.5,208.93 539.17,208.9 557,208.9" fill="none" stroke="#6f6f6f" stroke-width="1.6" stroke-linejoin="round" stroke-linecap="round" />
<path d="M557.3,208.9 C544.42,208.92 502.88,208.92 480,209 C457.12,209.08 437.77,209.17 420,209.4 C402.23,209.63 383.4,210.03 373.4,210.4 C363.4,210.77 363.25,211.13 360,211.6 C356.75,212.07 355.42,212.13 353.9,213.2 C352.38,214.27 351.35,218.37 350.9,218 C350.45,217.63 350.85,212.75 351.2,211 C351.55,209.25 352.08,208.22 353,207.5 C353.92,206.78 355.38,206.58 356.7,206.7 C358.02,206.82 357.02,207.85 360.9,208.2 C364.78,208.55 370.15,208.68 380,208.8 C389.85,208.92 390.45,208.88 420,208.9 C449.55,208.92 534.42,208.9 557.3,208.9" fill="none" stroke="#ea2a35" stroke-width="1.8" stroke-linejoin="round" stroke-linecap="round" />
<path d="M557.3,209.2 C544.42,209.2 502.88,209.18 480,209.2 C457.12,209.22 438.7,209.23 420,209.3 C401.3,209.37 378.58,209.2 367.8,209.6 C357.02,210 357.97,210.88 355.3,211.7 C352.63,212.52 352.5,214.03 351.8,214.5 C351.1,214.97 350.98,215.43 351.1,214.5 C351.22,213.57 351.57,210.18 352.5,208.9 C353.43,207.62 355.3,206.92 356.7,206.8 C358.1,206.68 357.02,207.87 360.9,208.2 C364.78,208.53 370.15,208.7 380,208.8 C389.85,208.9 390.45,208.8 420,208.8 C449.55,208.8 534.42,208.8 557.3,208.8" fill="none" stroke="#3365b5" stroke-width="1.8" stroke-linejoin="round" stroke-linecap="round" />
<rect x="158.3" y="379.5" width="304" height="158.9" fill="none" stroke="#1e1e1e" stroke-width="1.1"/>
<path d="M167.5,538.4v5.5 M167.5,379.5v5.5 M215.15,538.4v5.5 M215.15,379.5v5.5 M262.8,538.4v5.5 M262.8,379.5v5.5 M310.45,538.4v5.5 M310.45,379.5v5.5 M358.1,538.4v5.5 M358.1,379.5v5.5 M405.75,538.4v5.5 M405.75,379.5v5.5 M453.4,538.4v5.5 M453.4,379.5v5.5 M177.03,538.4v2.7 M177.03,379.5v2.7 M186.56,538.4v2.7 M186.56,379.5v2.7 M196.09,538.4v2.7 M196.09,379.5v2.7 M205.62,538.4v2.7 M205.62,379.5v2.7 M224.68,538.4v2.7 M224.68,379.5v2.7 M234.21,538.4v2.7 M234.21,379.5v2.7 M243.74,538.4v2.7 M243.74,379.5v2.7 M253.27,538.4v2.7 M253.27,379.5v2.7 M272.33,538.4v2.7 M272.33,379.5v2.7 M281.86,538.4v2.7 M281.86,379.5v2.7 M291.39,538.4v2.7 M291.39,379.5v2.7 M300.92,538.4v2.7 M300.92,379.5v2.7 M319.98,538.4v2.7 M319.98,379.5v2.7 M329.51,538.4v2.7 M329.51,379.5v2.7 M339.04,538.4v2.7 M339.04,379.5v2.7 M348.57,538.4v2.7 M348.57,379.5v2.7 M367.63,538.4v2.7 M367.63,379.5v2.7 M377.16,538.4v2.7 M377.16,379.5v2.7 M386.69,538.4v2.7 M386.69,379.5v2.7 M396.22,538.4v2.7 M396.22,379.5v2.7 M415.28,538.4v2.7 M415.28,379.5v2.7 M424.81,538.4v2.7 M424.81,379.5v2.7 M434.34,538.4v2.7 M434.34,379.5v2.7 M443.87,538.4v2.7 M443.87,379.5v2.7 " stroke="#1e1e1e" stroke-width="1.15"/>
<path d="M158.3,538.4h-5.5 M462.3,538.4h-5.5 M158.3,498.67h-5.5 M462.3,498.67h-5.5 M158.3,458.95h-5.5 M462.3,458.95h-5.5 M158.3,419.22h-5.5 M462.3,419.22h-5.5 M158.3,379.5h-5.5 M462.3,379.5h-5.5 M158.3,530.45h-2.7 M462.3,530.45h-2.7 M158.3,522.51h-2.7 M462.3,522.51h-2.7 M158.3,514.56h-2.7 M462.3,514.56h-2.7 M158.3,506.62h-2.7 M462.3,506.62h-2.7 M158.3,490.73h-2.7 M462.3,490.73h-2.7 M158.3,482.78h-2.7 M462.3,482.78h-2.7 M158.3,474.84h-2.7 M462.3,474.84h-2.7 M158.3,466.89h-2.7 M462.3,466.89h-2.7 M158.3,451h-2.7 M462.3,451h-2.7 M158.3,443.06h-2.7 M462.3,443.06h-2.7 M158.3,435.12h-2.7 M462.3,435.12h-2.7 M158.3,427.17h-2.7 M462.3,427.17h-2.7 M158.3,411.28h-2.7 M462.3,411.28h-2.7 M158.3,403.33h-2.7 M462.3,403.33h-2.7 M158.3,395.39h-2.7 M462.3,395.39h-2.7 M158.3,387.44h-2.7 M462.3,387.44h-2.7 " stroke="#1e1e1e" stroke-width="1.15"/>
<text x="167.5" y="556.99" font-size="10.8" font-weight="400" text-anchor="middle" fill="#1e1e1e" >0</text>
<text x="215.15" y="556.99" font-size="10.8" font-weight="400" text-anchor="middle" fill="#1e1e1e" >5</text>
<text x="262.8" y="556.99" font-size="10.8" font-weight="400" text-anchor="middle" fill="#1e1e1e" >10</text>
<text x="310.45" y="556.99" font-size="10.8" font-weight="400" text-anchor="middle" fill="#1e1e1e" >15</text>
<text x="358.1" y="556.99" font-size="10.8" font-weight="400" text-anchor="middle" fill="#1e1e1e" >20</text>
<text x="405.75" y="556.99" font-size="10.8" font-weight="400" text-anchor="middle" fill="#1e1e1e" >25</text>
<text x="453.4" y="556.99" font-size="10.8" font-weight="400" text-anchor="middle" fill="#1e1e1e" >30</text>
<text x="149.6" y="542.29" font-size="10.8" font-weight="400" text-anchor="end" fill="#1e1e1e" >0</text>
<text x="149.6" y="502.56" font-size="10.8" font-weight="400" text-anchor="end" fill="#1e1e1e" >50</text>
<text x="149.6" y="462.84" font-size="10.8" font-weight="400" text-anchor="end" fill="#1e1e1e" >100</text>
<text x="149.6" y="423.11" font-size="10.8" font-weight="400" text-anchor="end" fill="#1e1e1e" >150</text>
<text x="149.6" y="383.39" font-size="10.8" font-weight="400" text-anchor="end" fill="#1e1e1e" >200</text>
<text x="310.3" y="573.5" font-size="12.6" font-weight="700" text-anchor="middle" fill="#1e1e1e" textLength="84.5" lengthAdjust="spacingAndGlyphs" >Cycle Number</text>
<text transform="translate(123.2,459) rotate(-90)" font-size="13.2" font-weight="700" text-anchor="middle" fill="#1e1e1e" textLength="111.2" lengthAdjust="spacingAndGlyphs" >Capacity (mAh g<tspan dy="-5" font-size="8.5">-1</tspan><tspan dy="5">)</tspan></text>
<text x="161.4" y="533.7" font-size="10.2" font-weight="700" text-anchor="start" fill="#1e1e1e" >(e)</text>
<line x1="210.38" y1="380.1" x2="210.38" y2="538.4" stroke="#1e1e1e" stroke-width="1.6" stroke-dasharray="2.9 2.3"/>
<line x1="258.03" y1="380.1" x2="258.03" y2="538.4" stroke="#1e1e1e" stroke-width="1.6" stroke-dasharray="2.9 2.3"/>
<line x1="305.69" y1="380.1" x2="305.69" y2="538.4" stroke="#1e1e1e" stroke-width="1.6" stroke-dasharray="2.9 2.3"/>
<line x1="353.33" y1="380.1" x2="353.33" y2="538.4" stroke="#1e1e1e" stroke-width="1.6" stroke-dasharray="2.9 2.3"/>
<line x1="400.99" y1="380.1" x2="400.99" y2="538.4" stroke="#1e1e1e" stroke-width="1.6" stroke-dasharray="2.9 2.3"/>
<rect x="381" y="384.5" width="70" height="28.5" fill="#fff"/>
<text x="168.4" y="399.5" font-size="8.6" font-weight="700" text-anchor="start" fill="#1e1e1e" textLength="37.4" lengthAdjust="spacingAndGlyphs" stroke="#1e1e1e" stroke-width="0.3">25 mA g<tspan dy="-3.2" font-size="6.2">-1</tspan></text>
<text x="217.4" y="432.2" font-size="8.6" font-weight="700" text-anchor="start" fill="#1e1e1e" textLength="37.1" lengthAdjust="spacingAndGlyphs" stroke="#1e1e1e" stroke-width="0.3">50 mA g<tspan dy="-3.2" font-size="6.2">-1</tspan></text>
<text x="262" y="447.9" font-size="8.6" font-weight="700" text-anchor="start" fill="#1e1e1e" textLength="40.8" lengthAdjust="spacingAndGlyphs" stroke="#1e1e1e" stroke-width="0.3">100 mA g<tspan dy="-3.2" font-size="6.2">-1</tspan></text>
<text x="310.5" y="459.2" font-size="8.6" font-weight="700" text-anchor="start" fill="#1e1e1e" textLength="40.6" lengthAdjust="spacingAndGlyphs" stroke="#1e1e1e" stroke-width="0.3">250 mA g<tspan dy="-3.2" font-size="6.2">-1</tspan></text>
<text x="357.1" y="468.6" font-size="8.6" font-weight="700" text-anchor="start" fill="#1e1e1e" textLength="40.8" lengthAdjust="spacingAndGlyphs" stroke="#1e1e1e" stroke-width="0.3">500 mA g<tspan dy="-3.2" font-size="6.2">-1</tspan></text>
<text x="408.5" y="464.7" font-size="8.6" font-weight="700" text-anchor="start" fill="#1e1e1e" textLength="37.6" lengthAdjust="spacingAndGlyphs" stroke="#1e1e1e" stroke-width="0.3">25 mA g<tspan dy="-3.2" font-size="6.2">-1</tspan></text>
<circle cx="177.03" cy="426.8" r="2.6" fill="#6e6e6e"/>
<circle cx="186.56" cy="448.4" r="2.6" fill="#6e6e6e"/>
<circle cx="196.09" cy="458" r="2.6" fill="#6e6e6e"/>
<circle cx="205.62" cy="465.6" r="2.6" fill="#6e6e6e"/>
<circle cx="215.15" cy="473.6" r="2.6" fill="#6e6e6e"/>
<circle cx="262.8" cy="489.9" r="2.6" fill="#6e6e6e"/>
<circle cx="310.45" cy="499.6" r="2.6" fill="#6e6e6e"/>
<circle cx="358.1" cy="508.9" r="2.6" fill="#6e6e6e"/>
<circle cx="405.75" cy="484.7" r="2.6" fill="#6e6e6e"/>
<circle cx="415.28" cy="486.7" r="2.6" fill="#6e6e6e"/>
<circle cx="424.81" cy="488" r="2.6" fill="#6e6e6e"/>
<circle cx="434.34" cy="488.9" r="2.6" fill="#6e6e6e"/>
<circle cx="443.87" cy="489.9" r="2.6" fill="#6e6e6e"/>
<circle cx="224.68" cy="483.2" r="2.6" fill="#6e6e6e"/>
<circle cx="234.21" cy="485.5" r="2.6" fill="#6e6e6e"/>
<circle cx="243.74" cy="486.7" r="2.6" fill="#6e6e6e"/>
<circle cx="253.27" cy="487.9" r="2.6" fill="#6e6e6e"/>
<circle cx="272.33" cy="496.8" r="2.6" fill="#6e6e6e"/>
<circle cx="281.86" cy="497.1" r="2.6" fill="#6e6e6e"/>
<circle cx="291.39" cy="497.7" r="2.6" fill="#6e6e6e"/>
<circle cx="300.92" cy="498" r="2.6" fill="#6e6e6e"/>
<circle cx="319.98" cy="505.8" r="2.6" fill="#6e6e6e"/>
<circle cx="329.51" cy="505.8" r="2.6" fill="#6e6e6e"/>
<circle cx="339.04" cy="505.8" r="2.6" fill="#6e6e6e"/>
<circle cx="348.57" cy="505.8" r="2.6" fill="#6e6e6e"/>
<circle cx="367.63" cy="512.9" r="2.6" fill="#6e6e6e"/>
<circle cx="377.16" cy="512.7" r="2.6" fill="#6e6e6e"/>
<circle cx="386.69" cy="512.2" r="2.6" fill="#6e6e6e"/>
<circle cx="396.22" cy="512" r="2.6" fill="#6e6e6e"/>
<path d="M167.5,419.9 L169.85,424.2 L165.15,424.2 Z" fill="#fff" stroke="#6e6e6e" stroke-width="1.25"/>
<path d="M177.03,436.6 L179.38,440.9 L174.68,440.9 Z" fill="#fff" stroke="#6e6e6e" stroke-width="1.25"/>
<path d="M186.56,447 L188.91,451.3 L184.21,451.3 Z" fill="#fff" stroke="#6e6e6e" stroke-width="1.25"/>
<path d="M196.09,455.9 L198.44,460.2 L193.74,460.2 Z" fill="#fff" stroke="#6e6e6e" stroke-width="1.25"/>
<path d="M205.62,462.7 L207.97,467 L203.27,467 Z" fill="#fff" stroke="#6e6e6e" stroke-width="1.25"/>
<path d="M215.15,477.1 L217.5,481.4 L212.8,481.4 Z" fill="#fff" stroke="#6e6e6e" stroke-width="1.25"/>
<path d="M224.68,479.2 L227.03,483.5 L222.33,483.5 Z" fill="#fff" stroke="#6e6e6e" stroke-width="1.25"/>
<path d="M234.21,481.5 L236.56,485.8 L231.86,485.8 Z" fill="#fff" stroke="#6e6e6e" stroke-width="1.25"/>
<path d="M243.74,482.7 L246.09,487 L241.39,487 Z" fill="#fff" stroke="#6e6e6e" stroke-width="1.25"/>
<path d="M253.27,483.9 L255.62,488.2 L250.92,488.2 Z" fill="#fff" stroke="#6e6e6e" stroke-width="1.25"/>
<path d="M262.8,491.9 L265.15,496.2 L260.45,496.2 Z" fill="#fff" stroke="#6e6e6e" stroke-width="1.25"/>
<path d="M272.33,492.8 L274.68,497.1 L269.98,497.1 Z" fill="#fff" stroke="#6e6e6e" stroke-width="1.25"/>
<path d="M281.86,493.1 L284.21,497.4 L279.51,497.4 Z" fill="#fff" stroke="#6e6e6e" stroke-width="1.25"/>
<path d="M291.39,493.7 L293.74,498 L289.04,498 Z" fill="#fff" stroke="#6e6e6e" stroke-width="1.25"/>
<path d="M300.92,494 L303.27,498.3 L298.57,498.3 Z" fill="#fff" stroke="#6e6e6e" stroke-width="1.25"/>
<path d="M310.45,502.4 L312.8,506.7 L308.1,506.7 Z" fill="#fff" stroke="#6e6e6e" stroke-width="1.25"/>
<path d="M319.98,502.8 L322.33,507.1 L317.63,507.1 Z" fill="#fff" stroke="#6e6e6e" stroke-width="1.25"/>
<path d="M329.51,502.8 L331.86,507.1 L327.16,507.1 Z" fill="#fff" stroke="#6e6e6e" stroke-width="1.25"/>
<path d="M339.04,502.8 L341.39,507.1 L336.69,507.1 Z" fill="#fff" stroke="#6e6e6e" stroke-width="1.25"/>
<path d="M348.57,502.8 L350.92,507.1 L346.22,507.1 Z" fill="#fff" stroke="#6e6e6e" stroke-width="1.25"/>
<path d="M358.1,509.9 L360.45,514.2 L355.75,514.2 Z" fill="#fff" stroke="#6e6e6e" stroke-width="1.25"/>
<path d="M367.63,509.9 L369.98,514.2 L365.28,514.2 Z" fill="#fff" stroke="#6e6e6e" stroke-width="1.25"/>
<path d="M377.16,509.7 L379.51,514 L374.81,514 Z" fill="#fff" stroke="#6e6e6e" stroke-width="1.25"/>
<path d="M386.69,509.2 L389.04,513.5 L384.34,513.5 Z" fill="#fff" stroke="#6e6e6e" stroke-width="1.25"/>
<path d="M396.22,509 L398.57,513.3 L393.87,513.3 Z" fill="#fff" stroke="#6e6e6e" stroke-width="1.25"/>
<path d="M405.75,478.5 L408.1,482.8 L403.4,482.8 Z" fill="#fff" stroke="#6e6e6e" stroke-width="1.25"/>
<path d="M415.28,479.8 L417.63,484.1 L412.93,484.1 Z" fill="#fff" stroke="#6e6e6e" stroke-width="1.25"/>
<path d="M424.81,480.5 L427.16,484.8 L422.46,484.8 Z" fill="#fff" stroke="#6e6e6e" stroke-width="1.25"/>
<path d="M434.34,481.3 L436.69,485.6 L431.99,485.6 Z" fill="#fff" stroke="#6e6e6e" stroke-width="1.25"/>
<path d="M443.87,481.9 L446.22,486.2 L441.52,486.2 Z" fill="#fff" stroke="#6e6e6e" stroke-width="1.25"/>
<circle cx="177.03" cy="406.2" r="2.6" fill="#e8262e"/>
<circle cx="186.56" cy="418.5" r="2.6" fill="#e8262e"/>
<circle cx="196.09" cy="424" r="2.6" fill="#e8262e"/>
<circle cx="205.62" cy="426.8" r="2.6" fill="#e8262e"/>
<circle cx="215.15" cy="437.9" r="2.6" fill="#e8262e"/>
<circle cx="224.68" cy="440.9" r="2.6" fill="#e8262e"/>
<circle cx="234.21" cy="442.3" r="2.6" fill="#e8262e"/>
<circle cx="243.74" cy="443.1" r="2.6" fill="#e8262e"/>
<circle cx="253.27" cy="445.2" r="2.6" fill="#e8262e"/>
<circle cx="262.8" cy="454.3" r="2.6" fill="#e8262e"/>
<circle cx="272.33" cy="458.1" r="2.6" fill="#e8262e"/>
<circle cx="281.86" cy="458.8" r="2.6" fill="#e8262e"/>
<circle cx="291.39" cy="459.1" r="2.6" fill="#e8262e"/>
<circle cx="300.92" cy="459.3" r="2.6" fill="#e8262e"/>
<circle cx="310.45" cy="470.3" r="2.6" fill="#e8262e"/>
<circle cx="319.98" cy="474.7" r="2.6" fill="#e8262e"/>
<circle cx="329.51" cy="475.5" r="2.6" fill="#e8262e"/>
<circle cx="339.04" cy="475.7" r="2.6" fill="#e8262e"/>
<circle cx="348.57" cy="476.1" r="2.6" fill="#e8262e"/>
<circle cx="358.1" cy="480.8" r="2.6" fill="#e8262e"/>
<circle cx="367.63" cy="483.3" r="2.6" fill="#e8262e"/>
<circle cx="377.16" cy="483.3" r="2.6" fill="#e8262e"/>
<circle cx="386.69" cy="483.3" r="2.6" fill="#e8262e"/>
<circle cx="396.22" cy="483.5" r="2.6" fill="#e8262e"/>
<circle cx="405.75" cy="448.7" r="2.6" fill="#e8262e"/>
<circle cx="415.28" cy="442.4" r="2.6" fill="#e8262e"/>
<circle cx="424.81" cy="442.1" r="2.6" fill="#e8262e"/>
<circle cx="434.34" cy="442.1" r="2.6" fill="#e8262e"/>
<circle cx="443.87" cy="442.1" r="2.6" fill="#e8262e"/>
<path d="M167.5,425.1 L169.85,429.4 L165.15,429.4 Z" fill="#fff" stroke="#e8262e" stroke-width="1.25"/>
<path d="M177.03,427.4 L179.38,431.7 L174.68,431.7 Z" fill="#fff" stroke="#e8262e" stroke-width="1.25"/>
<path d="M186.56,429.3 L188.91,433.6 L184.21,433.6 Z" fill="#fff" stroke="#e8262e" stroke-width="1.25"/>
<path d="M196.09,430.8 L198.44,435.1 L193.74,435.1 Z" fill="#fff" stroke="#e8262e" stroke-width="1.25"/>
<path d="M205.62,431.3 L207.97,435.6 L203.27,435.6 Z" fill="#fff" stroke="#e8262e" stroke-width="1.25"/>
<path d="M215.15,440.6 L217.5,444.9 L212.8,444.9 Z" fill="#fff" stroke="#e8262e" stroke-width="1.25"/>
<path d="M224.68,442.3 L227.03,446.6 L222.33,446.6 Z" fill="#fff" stroke="#e8262e" stroke-width="1.25"/>
<path d="M234.21,443.2 L236.56,447.5 L231.86,447.5 Z" fill="#fff" stroke="#e8262e" stroke-width="1.25"/>
<path d="M243.74,443.7 L246.09,448 L241.39,448 Z" fill="#fff" stroke="#e8262e" stroke-width="1.25"/>
<path d="M253.27,444.4 L255.62,448.7 L250.92,448.7 Z" fill="#fff" stroke="#e8262e" stroke-width="1.25"/>
<path d="M262.8,455 L265.15,459.3 L260.45,459.3 Z" fill="#fff" stroke="#e8262e" stroke-width="1.25"/>
<path d="M272.33,456.6 L274.68,460.9 L269.98,460.9 Z" fill="#fff" stroke="#e8262e" stroke-width="1.25"/>
<path d="M281.86,457.3 L284.21,461.6 L279.51,461.6 Z" fill="#fff" stroke="#e8262e" stroke-width="1.25"/>
<path d="M291.39,457.6 L293.74,461.9 L289.04,461.9 Z" fill="#fff" stroke="#e8262e" stroke-width="1.25"/>
<path d="M300.92,457.8 L303.27,462.1 L298.57,462.1 Z" fill="#fff" stroke="#e8262e" stroke-width="1.25"/>
<path d="M310.45,469.7 L312.8,474 L308.1,474 Z" fill="#fff" stroke="#e8262e" stroke-width="1.25"/>
<path d="M319.98,471.5 L322.33,475.8 L317.63,475.8 Z" fill="#fff" stroke="#e8262e" stroke-width="1.25"/>
<path d="M329.51,472.3 L331.86,476.6 L327.16,476.6 Z" fill="#fff" stroke="#e8262e" stroke-width="1.25"/>
<path d="M339.04,472.5 L341.39,476.8 L336.69,476.8 Z" fill="#fff" stroke="#e8262e" stroke-width="1.25"/>
<path d="M348.57,472.9 L350.92,477.2 L346.22,477.2 Z" fill="#fff" stroke="#e8262e" stroke-width="1.25"/>
<path d="M358.1,479.6 L360.45,483.9 L355.75,483.9 Z" fill="#fff" stroke="#e8262e" stroke-width="1.25"/>
<path d="M367.63,480.1 L369.98,484.4 L365.28,484.4 Z" fill="#fff" stroke="#e8262e" stroke-width="1.25"/>
<path d="M377.16,480.1 L379.51,484.4 L374.81,484.4 Z" fill="#fff" stroke="#e8262e" stroke-width="1.25"/>
<path d="M386.69,480.1 L389.04,484.4 L384.34,484.4 Z" fill="#fff" stroke="#e8262e" stroke-width="1.25"/>
<path d="M396.22,480.3 L398.57,484.6 L393.87,484.6 Z" fill="#fff" stroke="#e8262e" stroke-width="1.25"/>
<path d="M405.75,440.1 L408.1,444.4 L403.4,444.4 Z" fill="#fff" stroke="#e8262e" stroke-width="1.25"/>
<path d="M415.28,439.2 L417.63,443.5 L412.93,443.5 Z" fill="#fff" stroke="#e8262e" stroke-width="1.25"/>
<path d="M424.81,438.9 L427.16,443.2 L422.46,443.2 Z" fill="#fff" stroke="#e8262e" stroke-width="1.25"/>
<path d="M434.34,438.9 L436.69,443.2 L431.99,443.2 Z" fill="#fff" stroke="#e8262e" stroke-width="1.25"/>
<path d="M443.87,438.9 L446.22,443.2 L441.52,443.2 Z" fill="#fff" stroke="#e8262e" stroke-width="1.25"/>
<circle cx="386.7" cy="394.5" r="2.1" fill="#6e6e6e"/>
<path d="M398.5,391.1 L402.5,397.2 L394.5,397.2 Z" fill="#6e6e6e"/>
<text x="407.2" y="397.6" font-size="10.6" font-weight="700" text-anchor="start" fill="#6e6e6e" textLength="40.3" lengthAdjust="spacingAndGlyphs" >Aqueous</text>
<circle cx="386.7" cy="407.5" r="2.1" fill="#e8262e"/>
<path d="M398.5,404.1 L402.5,410.4 L394.5,410.4 Z" fill="#e8262e"/>
<text x="407.2" y="411.2" font-size="10.6" font-weight="700" text-anchor="start" fill="#e8262e" textLength="34.9" lengthAdjust="spacingAndGlyphs" >Organic</text>
</svg>
</body></html>
